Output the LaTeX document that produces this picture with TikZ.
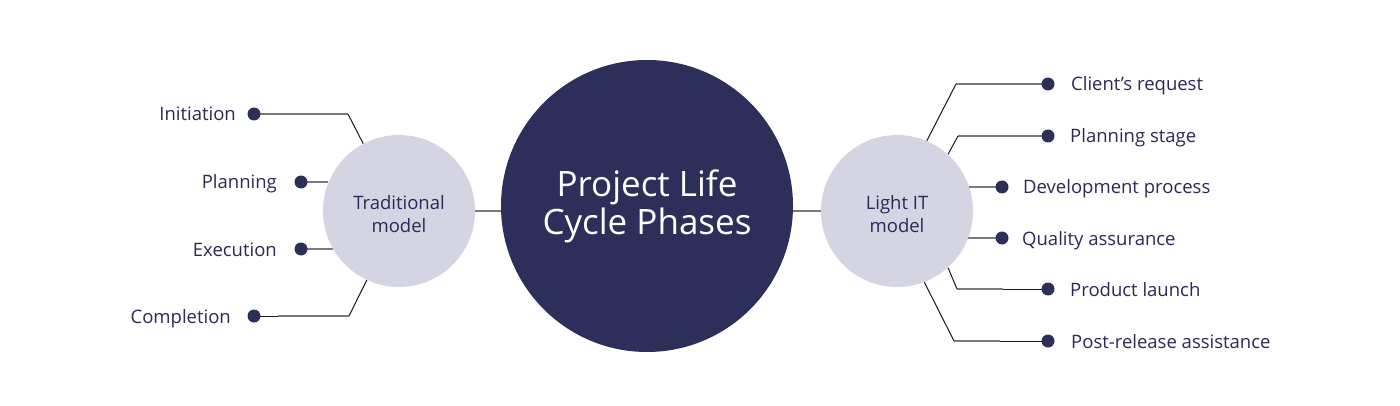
\documentclass[tikz,border=0pt]{standalone}
\usepackage{fontspec}
\setmainfont{Open Sans}
\usetikzlibrary{backgrounds}
\definecolor{navy}{HTML}{2E2E5B}
\definecolor{lightc}{HTML}{D5D4E2}
\definecolor{txt}{HTML}{2A2A55}
\definecolor{gline}{HTML}{7A7A7A}
\tikzset{
  hub/.style={circle, fill=navy, inner sep=0pt, minimum size=292pt, text=white, align=center,
    font=\fontsize{35}{38}\selectfont},
  model/.style={circle, fill=lightc, inner sep=0pt, minimum size=152pt},
  mtext/.style={text=txt, align=center, inner sep=0pt, font=\fontsize{18.5}{23}\selectfont},
  dotn/.style={circle, fill=navy, inner sep=0pt, minimum size=13pt},
  lab/.style={text=txt, inner sep=0pt, font=\fontsize{18.5}{22}\selectfont},
  gl/.style={draw=gline, line width=1.7pt},
  bl/.style={draw=black!90, line width=1.0pt},
}
\begin{document}
\begin{tikzpicture}[x=1pt,y=-1pt]
\useasboundingbox (0,0) rectangle (1400,406);
% main circles
\node[hub] (main) at (647,206) {Project Life\\Cycle Phases};
\node[model] (trad) at (399,211) {};
\node[model] (light) at (897,211) {};
\node[mtext] (tradt) at ([yshift=-3.5pt]trad.center) {Traditional\\model};
\node[mtext] (lightt) at ([yshift=-3.5pt]light.center) {Light IT\\model};
% left dots
\node[dotn] (d1) at (254,114) {};
\node[dotn] (d2) at (301,182) {};
\node[dotn] (d3) at (301,249) {};
\node[dotn] (d4) at (254,316) {};
% right dots
\node[dotn] (r1) at (1048,84) {};
\node[dotn] (r2) at (1048,136) {};
\node[dotn] (r3) at (1002,187) {};
\node[dotn] (r4) at (1002,238) {};
\node[dotn] (r5) at (1048,289) {};
\node[dotn] (r6) at (1048,341) {};
% labels
\node[lab, anchor=base east] (l1) at (236,121) {Initiation};
\node[lab, anchor=base east] (l2) at (277,189) {Planning};
\node[lab, anchor=base east] (l3) at (277,256) {Execution};
\node[lab, anchor=base east] (l4) at (231,323) {Completion};
\node[lab, anchor=base west] (m1) at (1071,91) {Client’s request};
\node[lab, anchor=base west] (m2) at (1070,143) {Planning stage};
\node[lab, anchor=base west] (m3) at (1023,194) {Development process};
\node[lab, anchor=base west] (m4) at (1022,245) {Quality assurance};
\node[lab, anchor=base west] (m5) at (1070,296) {Product launch};
\node[lab, anchor=base west] (m6) at (1071,348) {Post-release assistance};
% bend points
\coordinate (b1) at (348,114);
\coordinate (b4) at (349,316);
\coordinate (c4) at (278,316);
\coordinate (s1) at (956,84);
\coordinate (s2) at (958,136);
\coordinate (s5) at (957,289);
\coordinate (t5) at (1003,289);
\coordinate (s6) at (954,341);
\coordinate (t6) at (1000,341);
\begin{scope}[on background layer]
  \fill[white] (0,0) rectangle (1400,406);
  \draw[gl] (trad.east) -- (trad.east -| main.west);
  \draw[gl] (light.west) -- (light.west -| main.east);
  % left
  \draw[gl] (d1.center) -- (b1);
  \draw[bl] (b1) -- (trad.118);
  \draw[gl] (d2.center) -- (trad.158 |- d2);
  \draw[gl] (d3.center) -- (trad.210 |- d3);
  \draw[bl] (d4.center) -- (c4);
  \draw[gl] (c4) -- (b4);
  \draw[bl] (b4) -- (trad.245);
  % right
  \draw[gl] (r1.center) -- (s1);
  \draw[bl] (s1) -- (light.67);
  \draw[gl] (r2.center) -- (s2);
  \draw[bl] (s2) -- (light.48);
  \draw[gl] (r3.center) -- (light.18 |- r3);
  \draw[gl] (r4.center) -- (light.339 |- r4);
  \draw[bl] (r5.center) -- (t5);
  \draw[gl] (t5) -- (s5);
  \draw[bl] (s5) -- (light.312);
  \draw[bl] (r6.center) -- (t6);
  \draw[gl] (t6) -- (s6);
  \draw[bl] (s6) -- (light.291.5);
\end{scope}
\end{tikzpicture}
\end{document}
